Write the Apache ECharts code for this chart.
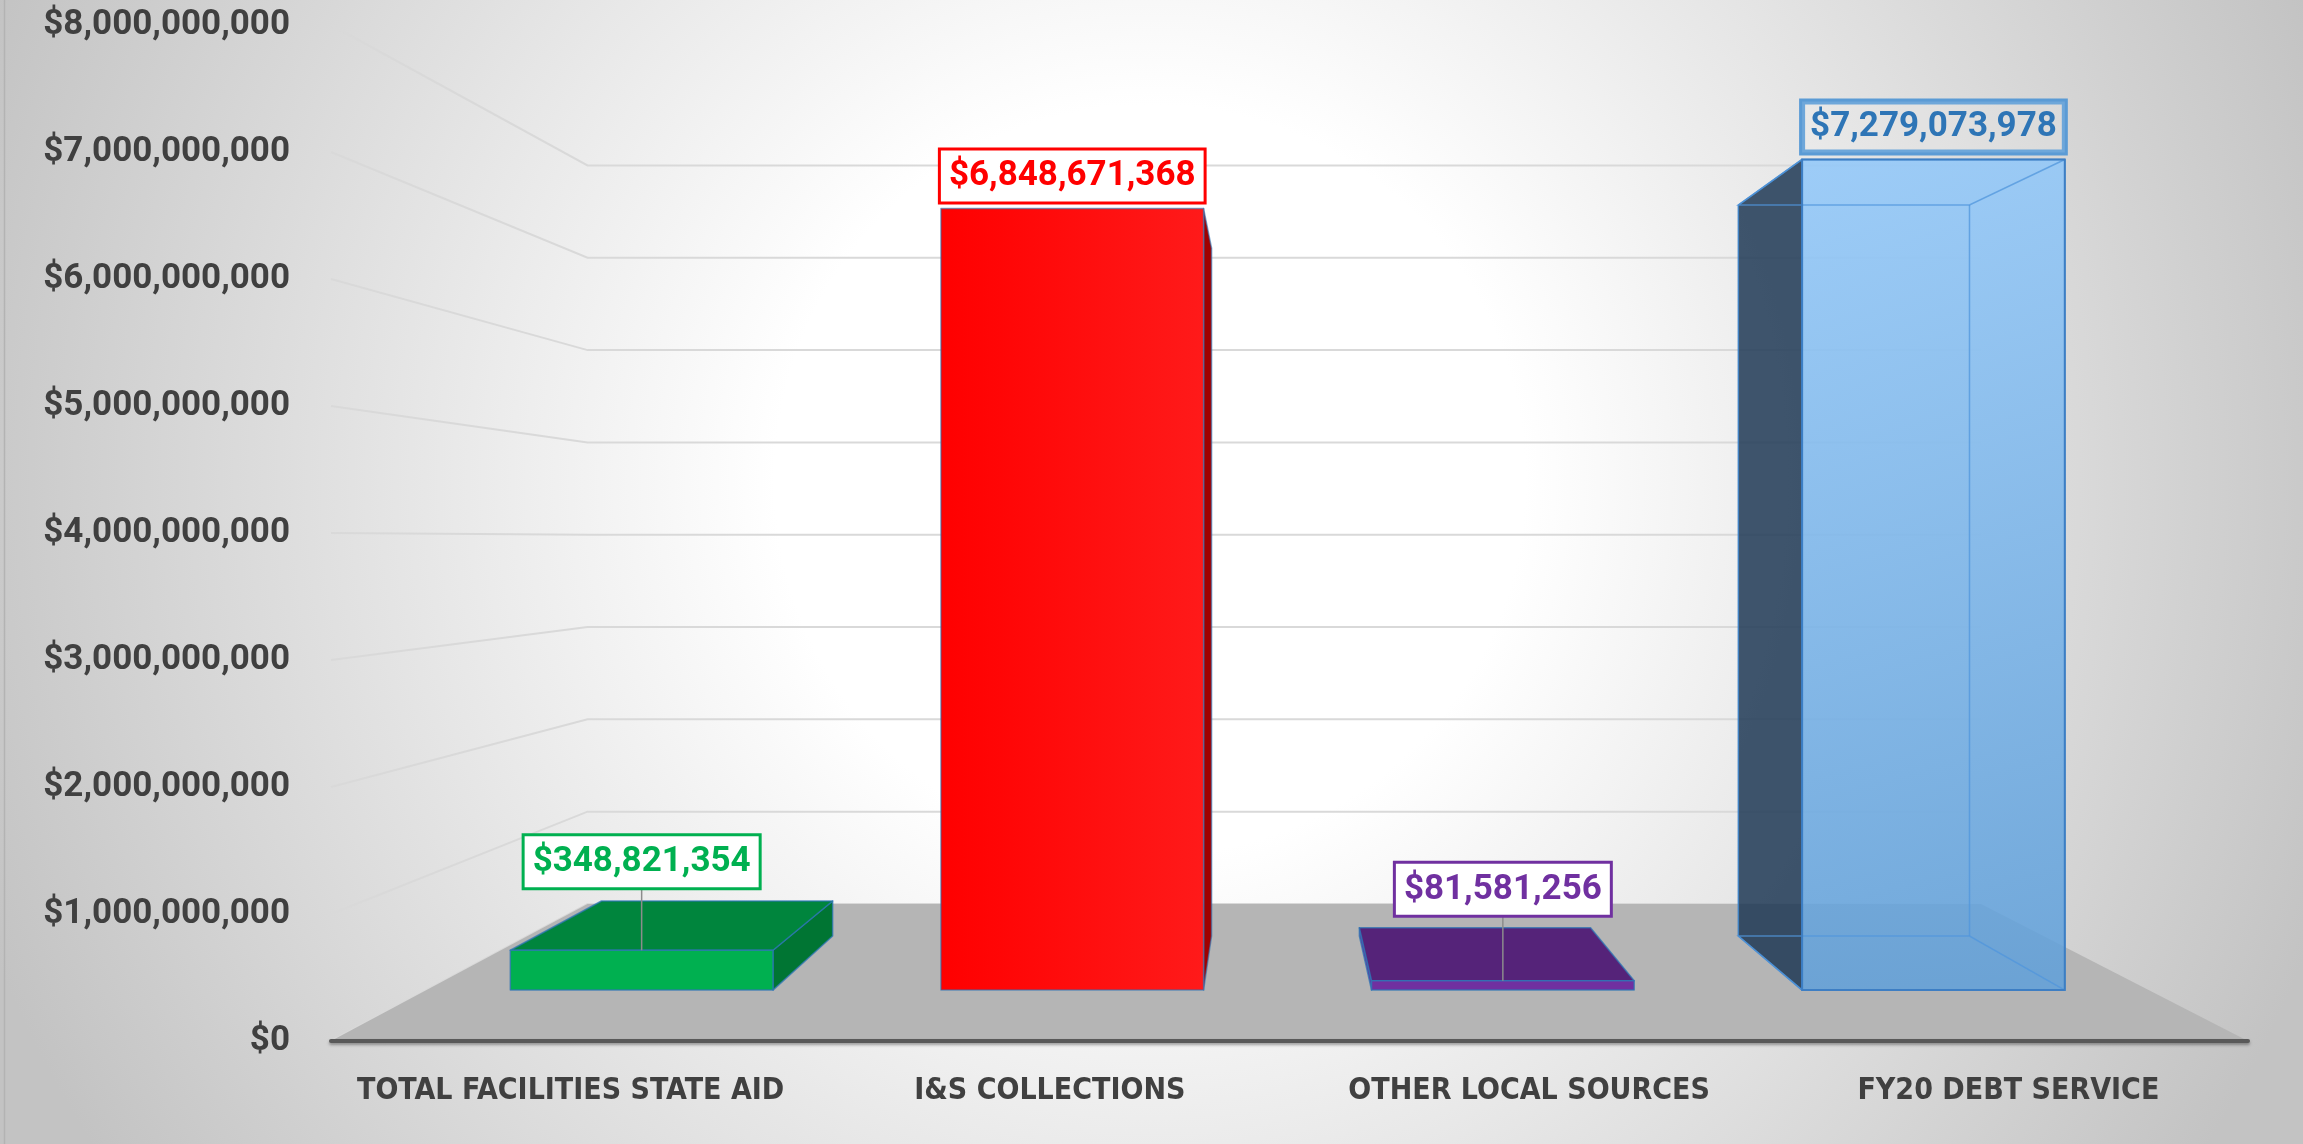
<!DOCTYPE html>
<html>
<head>
<meta charset="utf-8">
<script src="https://cdn.jsdelivr.net/npm/echarts/dist/echarts.min.js"></script>
<style>
html,body{margin:0;padding:0;background:#fff;overflow:hidden}
#c{width:2303px;height:1144px}
</style>
</head>
<body>
<div id="c"></div>
<script>
// ---------------- data ----------------
const categories = ['TOTAL FACILITIES STATE AID', 'I&S COLLECTIONS', 'OTHER LOCAL SOURCES', 'FY20 DEBT SERVICE'];
const values = [348821354, 6848671368, 81581256, 7279073978];
const yTickValues = [0, 1000000000, 2000000000, 3000000000, 4000000000, 5000000000, 6000000000, 7000000000, 8000000000];

// ---------------- view / style config ----------------
const VIEW = {
  vpX: 1.46, vpY: 3.95e9,     // vanishing point, in axis units
  barFront: 0.8985,           // depth scale of bar front faces
  barBack: 0.7907,            // depth scale of bar back faces
  backWall: 0.7269,           // depth scale of back wall
  barHalf: 0.305              // half bar width, in category units
};
const NUM_FONT = "Roboto,'DejaVu Sans Condensed',sans-serif";
const CAT_FONT = "'DejaVu Sans Condensed',Roboto,sans-serif";
const BAR_STYLES = [
  { front: '#00b050', top: '#00853d', side: '#007533', stroke: 'rgba(46,117,182,0.75)', text: '#00b050', border: '#00b050', bg: '#ffffff' },
  { front: { type: 'linear', x: 0, y: 0, x2: 1, y2: 0, colorStops: [{ offset: 0, color: '#ff0000' }, { offset: 1, color: '#ff1a1a' }] },
    top: '#d00000', side: '#a00000', stroke: 'rgba(46,117,182,0.6)', text: '#ff0000', border: '#ff0000', bg: '#ffffff' },
  { front: '#7030a0', top: '#552379', side: '#6a2e9a', stroke: 'rgba(46,117,182,0.75)', text: '#7030a0', border: '#7030a0', bg: '#ffffff' },
  { front: { type: 'linear', x: 0, y: 0, x2: 0.25, y2: 1, colorStops: [{ offset: 0, color: 'rgba(145,200,250,0.86)' }, { offset: 1, color: 'rgba(96,160,218,0.86)' }] },
    top: 'rgba(120,180,235,0.5)', side: 'rgba(31,56,85,0.85)', stroke: 'rgba(60,130,200,0.9)', text: '#2e75b6', border: '#5b9bd5', bg: 'rgba(255,255,255,0.12)', glass: true }
];
const LABEL_GAPS = [63, 7, 66, 7];

function fmt(v) { return '$' + Math.round(v).toLocaleString('en-US'); }

function proj(api, x, y, s) {
  const p = api.coord([x, y]);
  const v = api.coord([VIEW.vpX, VIEW.vpY]);
  return [v[0] + (p[0] - v[0]) * s, v[1] + (p[1] - v[1]) * s];
}

const chart = echarts.init(document.getElementById('c'), null, { renderer: 'canvas' });

const wallSeries = {
  type: 'custom', xAxisIndex: 1, yAxisIndex: 0, z: 1, silent: true,
  data: yTickValues.map(v => [0, v]),
  renderItem: function (params, api) {
    const v = api.value(1);
    const a = proj(api, -0.5, v, 1);
    const b = proj(api, -0.5, v, VIEW.backWall);
    const c = proj(api, 3.5, v, VIEW.backWall);
    return { type: 'polyline', shape: { points: [a, b, c] }, style: { stroke: '#d9d9d9', lineWidth: 2, fill: 'none' } };
  }
};

const floorSeries = {
  type: 'custom', xAxisIndex: 1, yAxisIndex: 0, z: 2, silent: true,
  data: [[0, yTickValues[0]]],
  renderItem: function (params, api) {
    const v = api.value(1);
    const pts = [proj(api, -0.5, v, 1), proj(api, 3.5, v, 1), proj(api, 3.5, v, VIEW.backWall), proj(api, -0.5, v, VIEW.backWall)];
    return { type: 'polygon', shape: { points: pts }, style: { fill: '#b5b5b5', stroke: 'none' } };
  }
};

const barSeries = {
  type: 'custom', xAxisIndex: 1, yAxisIndex: 0, z: 3, silent: true,
  data: values.map((v, i) => [i, v]),
  renderItem: function (params, api) {
    const i = api.value(0), v = api.value(1);
    const st = BAR_STYLES[params.dataIndex];
    const h = VIEW.barHalf;
    const F = (x, y) => proj(api, x, y, VIEW.barFront);
    const B = (x, y) => proj(api, x, y, VIEW.barBack);
    const fl = F(i - h, 0), fr = F(i + h, 0), ftl = F(i - h, v), ftr = F(i + h, v);
    const bl = B(i - h, 0), br = B(i + h, 0), btl = B(i - h, v), btr = B(i + h, v);
    const vp = api.coord([VIEW.vpX, VIEW.vpY]);
    const kids = [];
    const edge = { stroke: st.stroke, lineWidth: 1.5, lineJoin: 'round' };
    if (ftr[0] < vp[0]) {
      kids.push({ type: 'polygon', shape: { points: [fr, ftr, btr, br] }, style: Object.assign({ fill: st.side }, edge) });
    }
    if (ftl[0] > vp[0]) {
      kids.push({ type: 'polygon', shape: { points: [fl, ftl, btl, bl] }, style: Object.assign({ fill: st.side }, edge) });
    }
    if (ftl[1] > vp[1]) {
      kids.push({ type: 'polygon', shape: { points: [ftl, ftr, btr, btl] }, style: Object.assign({ fill: st.top }, edge) });
    }
    kids.push({ type: 'polygon', shape: { points: [fl, fr, ftr, ftl] }, style: Object.assign({ fill: st.front }, edge) });
    if (st.glass) {
      const ls = { stroke: 'rgba(80,150,220,0.75)', lineWidth: 1.5, fill: 'none' };
      kids.push({ type: 'polyline', shape: { points: [ftl, btl, btr, ftr] }, style: ls });
      kids.push({ type: 'polyline', shape: { points: [fl, bl, br, fr] }, style: ls });
      kids.push({ type: 'line', shape: { x1: btr[0], y1: btr[1], x2: br[0], y2: br[1] }, style: ls });
      kids.push({ type: 'polygon', shape: { points: [fl, fr, ftr, ftl] }, style: { fill: 'none', stroke: 'rgba(60,125,195,0.95)', lineWidth: 2 } });
    }
    const cx = (ftl[0] + ftr[0]) / 2;
    const gap = LABEL_GAPS[params.dataIndex];
    if (gap > 20) {
      kids.push({ type: 'line', shape: { x1: cx, y1: ftl[1] - gap, x2: cx, y2: ftl[1] }, style: { stroke: '#8c8c8c', lineWidth: 1.5 } });
    }
    kids.push({
      type: 'text', x: cx, y: ftl[1] - gap, z2: 20,
      style: {
        text: fmt(v), fill: st.text, font: 'bold 35px ' + NUM_FONT,
        align: 'center', verticalAlign: 'bottom', lineHeight: 36,
        backgroundColor: st.bg, borderColor: st.border, borderWidth: 3, padding: [8, 8, 7, 8]
      }
    });
    return { type: 'group', children: kids };
  }
};

chart.setOption({
  animation: false,
  backgroundColor: {
    type: 'radial', x: 1150, y: 480, r: 1250, global: true,
    colorStops: [{ offset: 0, color: '#ffffff' }, { offset: 0.3, color: '#ffffff' }, { offset: 1, color: '#c3c3c3' }]
  },
  graphic: [{
    type: 'line', silent: true, z: 100,
    shape: { x1: 4.5, y1: 0, x2: 4.5, y2: 1144 },
    style: { stroke: '#b3b3b3', lineWidth: 1.5 }
  }],
  grid: { left: 331, right: 55, top: 25, bottom: 103, containLabel: false, outerBoundsMode: 'none' },
  xAxis: [
    {
      type: 'category', data: categories, position: 'bottom', z: 5,
      axisLine: { show: true, lineStyle: { color: '#595959', width: 4, shadowBlur: 3, shadowColor: 'rgba(0,0,0,0.35)', shadowOffsetY: 2 } },
      axisTick: { show: false }, splitLine: { show: false },
      axisLabel: { color: '#404040', fontFamily: CAT_FONT, fontWeight: 'bold', fontSize: 30, margin: 35, interval: 0 }
    },
    { type: 'value', min: -0.5, max: 3.5, show: false }
  ],
  yAxis: {
    type: 'value', min: yTickValues[0], max: yTickValues[yTickValues.length - 1],
    interval: yTickValues[1] - yTickValues[0],
    axisLine: { show: false }, axisTick: { show: false }, splitLine: { show: false },
    axisLabel: { formatter: v => fmt(v), color: '#404040', fontFamily: NUM_FONT, fontWeight: 'bold', fontSize: 35, margin: 41 }
  },
  series: [wallSeries, floorSeries, barSeries]
});
</script>
</body>
</html>
